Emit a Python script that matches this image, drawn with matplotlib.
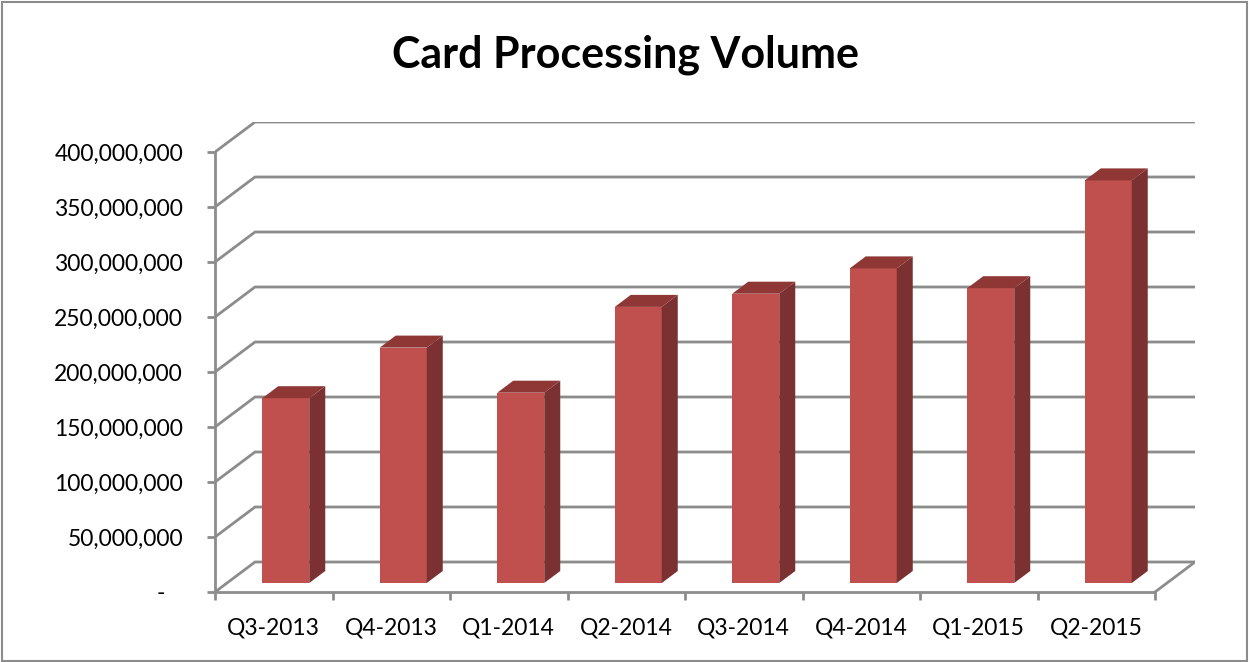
import matplotlib.pyplot as plt
from matplotlib.patches import Polygon, Rectangle
from matplotlib.ticker import FuncFormatter
import numpy as np

quarters = ["Q3-2013", "Q4-2013", "Q1-2014", "Q2-2014",
            "Q3-2014", "Q4-2014", "Q1-2015", "Q2-2015"]
volume = [168e6, 214e6, 173e6, 251e6, 263e6, 286e6, 268e6, 366e6]
yticks = np.arange(0, 400e6 + 1, 50e6)

FONT = ["Lato", "DejaVu Sans"]
plt.rcParams["font.family"] = FONT

W, H = 1250, 662
fig = plt.figure(figsize=(W / 100, H / 100), dpi=100)

# fake 3-D: depth offset of the back wall in data units
dx = 40 / 117.5          # categories
dy = 30 / 1.1 * 1e6      # value units
ymax = 400e6
n = len(quarters)

ax = fig.add_axes([215 / W, 70 / H, (1195 - 215) / W, (592 - 122) / H])
ax.set_xlim(0, n + dx)
ax.set_ylim(0, ymax + dy)

grid_c = "#8c8c8c"
# gridlines: diagonal on the left wall, then flat along the back wall
for v in yticks:
    ax.plot([0, dx, n + dx], [v, v + dy, v + dy], color=grid_c, lw=2, zorder=1,
            solid_capstyle="butt")
# floor right edge
ax.plot([n, n + dx], [0, dy], color=grid_c, lw=2, zorder=1)

# bars
front_c, side_c, top_c = "#C0504D", "#7B3131", "#8E3735"
d0, d1 = 0.3, 0.4   # bar start depth / bar depth (fractions)
bw = 0.4
for i, v in enumerate(volume):
    x0 = i + 0.5 - bw / 2 + d0 * dx
    b = d0 * dy
    ax.add_patch(Rectangle((x0, b), bw, v, facecolor=front_c, edgecolor="none", zorder=3))
    ex, ey = d1 * dx, d1 * dy
    ax.add_patch(Polygon([(x0 + bw, b), (x0 + bw + ex, b + ey),
                          (x0 + bw + ex, b + v + ey), (x0 + bw, b + v)],
                         closed=True, facecolor=side_c, edgecolor="none", zorder=3))
    ax.add_patch(Polygon([(x0, b + v), (x0 + bw, b + v),
                          (x0 + bw + ex, b + v + ey), (x0 + ex, b + v + ey)],
                         closed=True, facecolor=top_c, edgecolor="none", zorder=3))

for s in ["top", "right"]:
    ax.spines[s].set_visible(False)
ax.spines["left"].set_bounds(0, ymax)
ax.spines["bottom"].set_bounds(0, n)
for s in ["left", "bottom"]:
    ax.spines[s].set_color(grid_c)
    ax.spines[s].set_linewidth(2)
    ax.spines[s].set_zorder(2)

ax.set_yticks(yticks)
# accounting-style dash for zero, padded in from the right
ax.yaxis.set_major_formatter(FuncFormatter(lambda v, p: "-   " if v == 0 else f"{int(v):,}"))
ax.tick_params(axis="y", length=6, width=2, color=grid_c, pad=17, labelsize=16.5)

ax.set_xticks(np.arange(0, n + 1))
ax.set_xticklabels([])
ax.set_xticks(np.arange(n) + 0.5, minor=True)
ax.set_xticklabels(quarters, minor=True)
ax.tick_params(axis="x", which="major", length=6, width=2, color=grid_c)
ax.tick_params(axis="x", which="minor", length=0, pad=18, labelsize=16.5)
ax.patch.set_visible(False)

fig.text(0.5, 1 - 55 / H, "Card Processing Volume", ha="center", va="center",
         fontsize=31, fontweight="bold")

# chart area border
fig.add_artist(Rectangle((2 / W, 1 / H), (W - 5) / W, (H - 3) / H, transform=fig.transFigure,
                         fill=False, edgecolor="#8c8c8c", lw=1.5))

fig.savefig("out.png", dpi=100)
